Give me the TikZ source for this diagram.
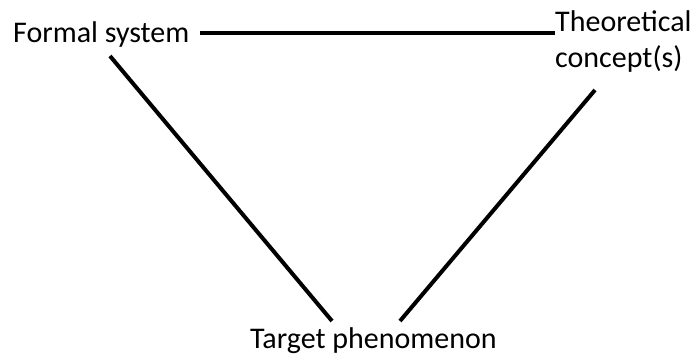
\documentclass[tikz,border=0pt]{standalone}
\usepackage{fontspec}
\setmainfont{Carlito}
\begin{document}
\begin{tikzpicture}[x=1pt,y=-1pt,
  lbl/.style={inner sep=0pt,anchor=base west,font=\fontsize{30}{36}\selectfont},
  edge/.style={line width=4pt}]
\useasboundingbox (0,0) rectangle (692,356);
\node[lbl] (fs) at (13,42) {Formal system};
\node[lbl] (tc1) at (555,31) {Theoretical};
\node[lbl] (tc2) at (555,67) {concept(s)};
\node[lbl] (tp) at (250,348) {Target phenomenon};
\coordinate (a1) at (200,33);
\coordinate (a2) at (555,33);
\coordinate (b1) at (110,56);
\coordinate (b2) at (332,321);
\coordinate (c1) at (595,90);
\coordinate (c2) at (400,321);
\draw[edge] (a1) -- (a2);
\draw[edge] (b1) -- (b2);
\draw[edge] (c1) -- (c2);
\end{tikzpicture}
\end{document}
